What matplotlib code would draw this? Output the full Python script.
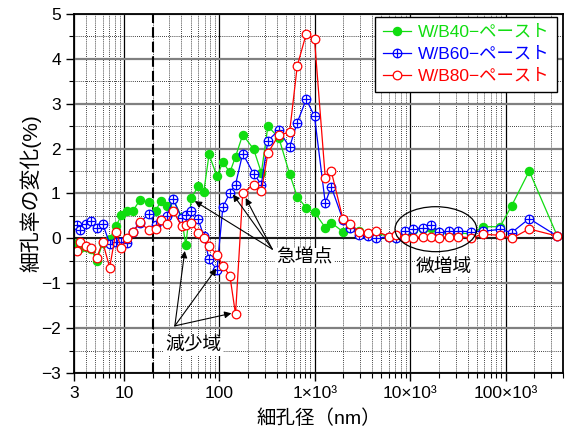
import numpy as np
import matplotlib
matplotlib.use('Agg')
import matplotlib.pyplot as plt
from matplotlib.path import Path
from matplotlib.patches import Ellipse
from matplotlib.legend_handler import HandlerLine2D
from matplotlib.ticker import LogLocator, MultipleLocator, NullFormatter

plt.rcParams['font.family'] = ['Liberation Sans', 'Noto Sans CJK JP']

# pore diameter (nm)
diam = [3.2, 3.47, 4.0, 4.5, 5.2, 6.0, 7.1, 8.25, 9.4, 10.9, 12.4, 14.7, 18.3,
        21.6, 24.4, 28.2, 32.8, 40.2, 44.5, 51.1, 59.9, 68.7, 78.1, 94.6, 109,
        129, 148, 176, 229, 276, 323, 421, 545, 656, 815, 995, 1290, 1490, 1970,
        2350, 2940, 3590, 4400, 6060, 7130, 8920, 10800, 13800, 16600, 20200,
        25300, 31400, 43400, 58300, 87800, 116000, 177000, 349000]

# change of porosity (%)
wb40 = [-0.1, -0.21, -0.2, -0.23, -0.5, -0.1, -0.02, 0.27, 0.51, 0.61, 0.61, 0.85,
        0.81, 0.62, 0.83, 0.72, 0.88, 0.48, -0.15, 0.9, 1.16, 1.03, 1.87, 1.38,
        1.7, 1.47, 1.82, 2.31, 1.99, 1.46, 2.5, 2.24, 1.44, 0.93, 0.68, 0.58,
        0.24, 0.35, 0.15, 0.24, 0.16, 0.1, 0.12, 0.04, 0.01, 0.12, 0.18, 0.2,
        0.22, 0.12, 0.12, 0.12, 0.1, 0.26, 0.26, 0.73, 1.5, 0.05]
wb60 = [0.3, 0.18, 0.33, 0.38, 0.24, 0.33, -0.12, -0.08, -0.08, -0.11, 0.15, 0.35,
        0.55, 0.29, 0.42, 0.5, 0.87, 0.46, 0.53, 0.62, 0.44, 0.05, -0.47, -0.7,
        0.7, 1.01, 1.2, 1.89, 1.44, 1.2, 2.18, 2.41, 2.03, 2.58, 3.1, 2.72,
        0.79, 1.15, 0.42, 0.24, 0.07, 0.05, 0.0, 0.04, 0.01, 0.16, 0.21, 0.24,
        0.29, 0.14, 0.16, 0.16, 0.15, 0.16, 0.2, 0.13, 0.44, 0.05]
wb80 = [-0.28, -0.08, -0.17, -0.21, -0.43, -0.08, -0.65, 0.14, -0.21, 0.01, 0.14,
        0.36, 0.18, 0.21, 0.42, 0.33, 0.61, 0.28, 0.29, 0.34, 0.13, 0.01, -0.17,
        -0.36, -0.61, -0.83, -1.69, 1.01, 1.2, 1.05, 1.9, 2.31, 2.36, 3.84, 4.56,
        4.44, 1.35, 1.5, 0.44, 0.31, 0.14, 0.13, 0.16, 0.04, 0.07, 0.01, 0.01,
        0.04, 0.04, 0.01, 0.04, 0.04, 0.01, 0.09, 0.07, 0.0, 0.21, 0.05]

labels = ['W/B40−ペースト', 'W/B60−ペースト', 'W/B80−ペースト']
colors = ['#10dd10', '#0000ff', '#ff0000']

xticks = [3, 10, 100, 1e3, 1e4, 1e5]
xticklabels = ['3', '10', '100', '1×10³', '10×10³', '100×10³']

# circle with a cross for the W/B60 marker
oplus = Path.make_compound_path(
    Path.unit_circle(),
    Path([[-1, 0], [1, 0]], [Path.MOVETO, Path.LINETO]),
    Path([[0, -1], [0, 1]], [Path.MOVETO, Path.LINETO]))


class LeftMarker(HandlerLine2D):
    def get_xdata(self, legend, xdescent, ydescent, width, height, fontsize):
        xdata = np.array([-xdescent, -xdescent + width])
        return xdata, np.array([-xdescent])


fig = plt.figure(figsize=(5.66, 4.36), dpi=100)
ax = fig.add_axes([0.1307, 0.1445, 0.864, 0.8234])
ax.set_xscale('log')
ax.set_xlim(3, 4e5)
ax.set_ylim(-3, 5)

ax.set_xticks(xticks)
ax.set_xticklabels(xticklabels)
ax.xaxis.set_minor_locator(LogLocator(base=10, subs=np.arange(2, 10)))
ax.xaxis.set_minor_formatter(NullFormatter())
ax.yaxis.set_major_locator(MultipleLocator(1))
ax.yaxis.set_minor_locator(MultipleLocator(0.5))
ax.tick_params(which='major', direction='out', length=6, width=1, labelsize=12.5)
ax.tick_params(which='minor', direction='out', length=3.5, width=0.8)
for s in ax.spines.values():
    s.set_linewidth(1.3)

ax.grid(True, which='major', axis='x', color='k', lw=0.9, ls='-')
ax.grid(True, which='minor', axis='x', color='k', lw=0.6, ls=(0, (1, 1.5)))
ax.grid(True, which='major', axis='y', color='#808080', lw=1.6, ls='-')
ax.grid(True, which='minor', axis='y', color='k', lw=0.6, ls=(0, (1, 1.5)))
ax.set_axisbelow(True)
ax.axhline(0, color='k', lw=1.1, zorder=1.5)
ax.axvline(20, color='k', lw=1.5, ls=(0, (5, 2)), zorder=1.5)

l40, = ax.plot(diam, wb40, color=colors[0], lw=0.9, marker='o', ms=5.8,
               mfc=colors[0], mec=colors[0])
l60, = ax.plot(diam, wb60, color=colors[1], lw=0.9, marker=oplus, ms=6.2,
               mfc='white', mec=colors[1], mew=0.9)
l80, = ax.plot(diam, wb80, color=colors[2], lw=0.9, marker='o', ms=6.2,
               mfc='white', mec=colors[2], mew=0.9)

leg = ax.legend([l40, l60, l80], labels, loc='upper right',
                bbox_to_anchor=(0.988, 0.992), borderaxespad=0, fontsize=12.5,
                handlelength=1.6, handletextpad=0.4, labelspacing=0.4,
                borderpad=0.45, fancybox=False, edgecolor='k', framealpha=1,
                handler_map={l40: LeftMarker(), l60: LeftMarker(), l80: LeftMarker()})
leg.get_frame().set_linewidth(1.0)
for t, c in zip(leg.get_texts(), colors):
    t.set_color(c)

ax.set_xlabel('細孔径（nm）', fontsize=14, labelpad=6)
ax.set_ylabel('細孔率の変化(%)', fontsize=15, labelpad=0)

arrow = dict(arrowstyle='-|>', color='k', lw=0.8, mutation_scale=10,
             shrinkA=0, shrinkB=0)

# 急増点
for tip in [(55.3, 0.83), (139, 0.98), (189, 0.90)]:
    ax.annotate('', xy=tip, xytext=(359, -0.24), arrowprops=arrow)
ax.text(782, -0.43, '急増点', fontsize=13.5, ha='center', va='center',
        bbox=dict(fc='white', ec='none', pad=1))

# 減少域
for tip in [(43.5, -0.28), (93.3, -0.67), (134, -1.67)]:
    ax.annotate('', xy=tip, xytext=(34.2, -1.95), arrowprops=arrow)
ax.text(54, -2.4, '減少域', fontsize=13.5, ha='center', va='center',
        bbox=dict(fc='white', ec='none', pad=1))

# 微増域
ax.add_patch(Ellipse((0.740, 0.4006), 0.167, 0.1253, transform=ax.transAxes,
                     fill=False, ec='k', lw=0.9, zorder=5))
ax.text(22800, -0.65, '微増域', fontsize=13.5, ha='center', va='center',
        bbox=dict(fc='white', ec='none', pad=1))

fig.savefig('out.png', dpi=100)
